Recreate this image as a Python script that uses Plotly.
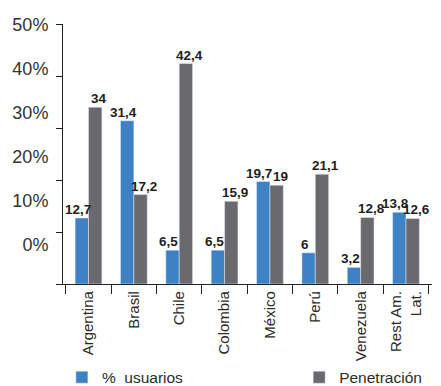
import plotly.graph_objects as go

# ---------------- datos ----------------
paises = ["Argentina", "Brasil", "Chile", "Colombia", "México", "Perú",
          "Venezuela", "Rest Am.<br>Lat."]
usuarios = [12.7, 31.4, 6.5, 6.5, 19.7, 6, 3.2, 13.8]
penetracion = [34, 17.2, 42.4, 15.9, 19, 21.1, 12.8, 12.6]

y_ticks = [0, 10, 20, 30, 40, 50]
y_labels = ["0%", "10%", "20%", "30%", "40%", "50%"]

colors = {
    "azul": "#3e82c5",
    "gris": "#6a6a6e",
    "texto": "#2b2b2b",
    "eje": "#222222",
}


def fmt(v):
    return str(v).replace(".", ",")


fig = go.Figure()
fig.add_trace(go.Bar(x=paises, y=usuarios, name="%\u00a0 usuarios",
                     marker_color=colors["azul"], legend="legend"))
fig.add_trace(go.Bar(x=paises, y=penetracion, name="Penetración",
                     marker_color=colors["gris"], legend="legend2"))

# etiquetas de valores encima de cada barra (como anotaciones, encima de todo)
label_font = dict(family="Liberation Sans, Arial", size=13.5, color="#1e1e1e")
for serie, shift in [(usuarios, -10.5), (penetracion, 10.5)]:
    for pais, v in zip(paises, serie):
        fig.add_annotation(x=pais, y=v, text="<b>" + fmt(v) + "</b>",
                           showarrow=False, yanchor="bottom", xanchor="center",
                           xshift=shift, yshift=-1, font=label_font)

# la pagina deja 8px de margen en el body: la figura es 8px mas chica
fig.update_layout(
    width=433, height=378,
    margin=dict(l=55, r=9, t=16, b=102, autoexpand=False),
    barmode="group", bargap=0.41, bargroupgap=0,
    plot_bgcolor="white", paper_bgcolor="white",
    font=dict(family="Liberation Sans, Arial", size=15, color=colors["texto"]),
    legend=dict(x=-0.003, xanchor="left", y=-0.36, yanchor="middle",
                font=dict(size=15.5), bgcolor="rgba(0,0,0,0)"),
    legend2=dict(x=0.64, xanchor="left", y=-0.36, yanchor="middle",
                 font=dict(size=15.5), bgcolor="rgba(0,0,0,0)"),
)

fig.update_xaxes(
    showline=True, linecolor=colors["eje"], linewidth=1.3,
    ticks="outside", tickson="boundaries", ticklen=9,
    tickcolor=colors["eje"], tickwidth=1.3,
    tickangle=-90, tickfont=dict(size=15), automargin=False,
    showgrid=False,
)
fig.update_yaxes(
    range=[0, 50], tickvals=y_ticks, showticklabels=False,
    showline=True, linecolor=colors["eje"], linewidth=1.3,
    ticks="outside", ticklen=6, tickcolor=colors["eje"], tickwidth=1.3,
    showgrid=False, zeroline=False, automargin=False,
)

# las etiquetas del eje Y estan desplazadas respecto a las marcas
fig.update_layout(yaxis2=dict(
    overlaying="y", side="left", range=[-8.86, 50.23],
    tickvals=y_ticks, ticktext=y_labels,
    ticks="outside", ticklen=10, tickcolor="rgba(0,0,0,0)",
    showline=False, showgrid=False, zeroline=False, automargin=False,
    tickfont=dict(size=18, color="#333333"),
))
fig.add_trace(go.Scatter(x=[None], y=[None], yaxis="y2", showlegend=False,
                         hoverinfo="skip"))

fig.write_html("out.html")
